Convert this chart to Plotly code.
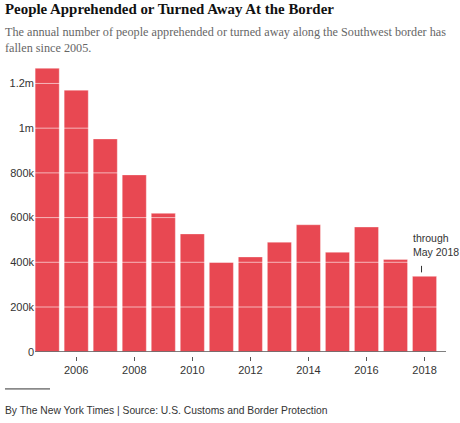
import plotly.graph_objects as go

years = list(range(2005, 2019))
values = [1268000, 1170000, 952000, 791000, 619000, 527000, 400000,
          424000, 490000, 568000, 445000, 558000, 413000, 337000]
y_tickvals = [0, 200000, 400000, 600000, 800000, 1000000, 1200000]
y_ticktext = ["0", "200k", "400k", "600k", "800k", "1m", "1.2m"]
x_tickvals = [2006, 2008, 2010, 2012, 2014, 2016, 2018]

title = "People Apprehended or Turned Away At the Border"
subtitle = ("The annual number of people apprehended or turned away along the Southwest border has"
            "<br>fallen since 2005.")
footer = "By The New York Times | Source: U.S. Customs and Border Protection"
note = "through<br>May 2018"

BAR = "#e84852"
TXT = "#333333"

fig = go.Figure()
fig.add_trace(go.Bar(
    x=years, y=values,
    marker=dict(color=BAR, line=dict(color="rgba(255,255,255,0.35)", width=1)),
    hoverinfo="x+y",
))

shapes = []
for v in y_tickvals[1:]:
    shapes.append(dict(type="line", xref="paper", yref="y", x0=0, x1=1, y0=v, y1=v,
                       line=dict(color="rgba(255,255,255,0.6)", width=1), layer="above"))
# baseline at zero
shapes.append(dict(type="line", xref="paper", yref="y", x0=0, x1=1, y0=0, y1=0,
                   line=dict(color="#555555", width=1.5), layer="above"))
# footer rule
shapes.append(dict(type="line", xref="paper", yref="paper", x0=-0.073, x1=0.0365,
                   y0=-0.112, y1=-0.112, line=dict(color="#333333", width=1)))

annotations = [
    dict(text="<b>" + title + "</b>", xref="paper", yref="paper", x=-0.078, y=1.213,
         xanchor="left", yanchor="top", showarrow=False,
         font=dict(family="Liberation Serif", size=14.9, color="#111111")),
    dict(text=subtitle, xref="paper", yref="paper", x=-0.078, y=1.076,
         xanchor="left", yanchor="middle", showarrow=False, align="left",
         font=dict(family="Liberation Serif", size=12.2, color="#666666")),
    dict(text=footer, xref="paper", yref="paper", x=-0.078, y=-0.184,
         xanchor="left", yanchor="middle", showarrow=False, align="left",
         font=dict(family="Liberation Sans", size=10.3, color=TXT)),
    dict(text=note, x=years[-1], y=values[-1], xref="x", yref="y",
         xanchor="left", yanchor="bottom", xshift=-14, yshift=16, showarrow=False,
         align="left", font=dict(family="Liberation Sans", size=10.5, color=TXT)),
    dict(text="", x=years[-1], y=values[-1], xref="x", yref="y", showarrow=True,
         ax=0, ay=-12, arrowhead=0, arrowwidth=1, arrowcolor=TXT, standoff=4, xshift=-3),
]

fig.update_layout(
    width=460, height=423,
    margin=dict(l=35, r=14, t=62, b=67),
    paper_bgcolor="white", plot_bgcolor="white",
    showlegend=False, bargap=0.17,
    shapes=shapes, annotations=annotations,
    xaxis=dict(range=[2004.58, 2018.74], tickvals=x_tickvals, showgrid=False,
               zeroline=False, showline=False, ticks="outside", ticklen=4,
               tickcolor="#555555", tickwidth=1, anchor="free", position=0,
               automargin=False,
               tickfont=dict(family="Liberation Sans", size=11, color=TXT)),
    yaxis=dict(range=[0, 1296000], domain=[0.0146, 1], tickvals=y_tickvals,
               ticktext=y_ticktext, showgrid=False, zeroline=False, showline=False,
               ticks="", automargin=False,
               tickfont=dict(family="Liberation Sans", size=11, color=TXT)),
)

fig.write_html("out.html", config={"displayModeBar": False},
               post_script="document.body.style.margin='0';")
